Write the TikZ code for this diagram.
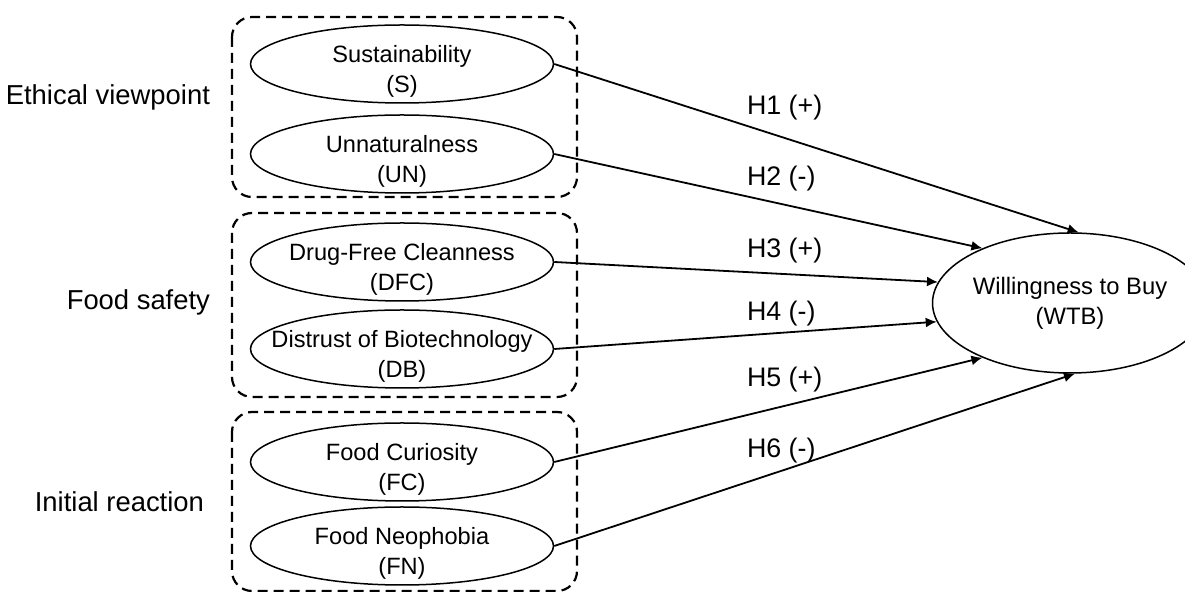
\documentclass[tikz,border=0pt]{standalone}
\usepackage{fontspec}
\setmainfont{Liberation Sans}
\usetikzlibrary{arrows.meta,shapes.geometric}

\begin{document}
\begin{tikzpicture}[x=0.5pt, y=-0.5pt,
    construct/.style={draw, ellipse, line width=0.75pt, inner sep=0pt,
      minimum width=151.5pt, minimum height=39pt,
      label={[align=center, yshift=-3.5pt, font=\fontsize{11.8}{15}\selectfont]center:#1}},
    outcome/.style={draw, ellipse, line width=0.75pt, inner sep=0pt,
      minimum width=113.5pt, minimum height=70pt, align=center,
      font=\fontsize{11.9}{15}\selectfont},
    groupbox/.style={line width=1.1pt, dash pattern=on 5pt off 3pt, rounded corners=10pt},
    hyppath/.style={line width=0.9pt, -{Latex[length=5.5pt,width=5pt]}},
    hyp/.style={anchor=base west, font=\fontsize{13.4}{16}\selectfont},
    factor/.style={anchor=base east, font=\fontsize{13.7}{16}\selectfont}]
  \useasboundingbox (0,0) rectangle (1185,592);

  % constructs
  \node[construct={Sustainability\\(S)}]            (s)   at (402,64)  {};
  \node[construct={Unnaturalness\\(UN)}]            (un)  at (402,154) {};
  \node[construct={Drug-Free Cleanness\\(DFC)}]     (dfc) at (402,262) {};
  \node[construct={Distrust of Biotechnology\\(DB)}] (db) at (402,349) {};
  \node[construct={Food Curiosity\\(FC)}]           (fc)  at (402,462) {};
  \node[construct={Food Neophobia\\(FN)}]           (fn)  at (402,546) {};
  \node[outcome] (wtb) at (1070,303) {Willingness to Buy\\(WTB)};

  % groups
  \draw[groupbox] (232,17)  rectangle (577,197);
  \draw[groupbox] (232,213) rectangle (577,397);
  \draw[groupbox] (232,412) rectangle (577,591);
  \node[factor] (ethic)  at (217,105) {Ethical viewpoint};
  \node[factor] (safety) at (217,310) {Food safety};
  \node[factor] (react)  at (211,512) {Initial reaction};

  % hypotheses
  \draw[hyppath] (s.east)   -- (wtb.83);
  \draw[hyppath] (un.east)  -- (wtb.148);
  \draw[hyppath] (dfc.east) -- (wtb.171);
  \draw[hyppath] (db.east)  -- (wtb.188);
  \draw[hyppath] (fc.east)  -- (wtb.212);
  \draw[hyppath] (fn.east)  -- (wtb.274);
  \node[hyp] (h1) at (740,115) {H1 (+)};
  \node[hyp] (h2) at (740,186) {H2 (-)};
  \node[hyp] (h3) at (740,258) {H3 (+)};
  \node[hyp] (h4) at (740,321) {H4 (-)};
  \node[hyp] (h5) at (740,387) {H5 (+)};
  \node[hyp] (h6) at (740,458) {H6 (-)};
\end{tikzpicture}
\end{document}
